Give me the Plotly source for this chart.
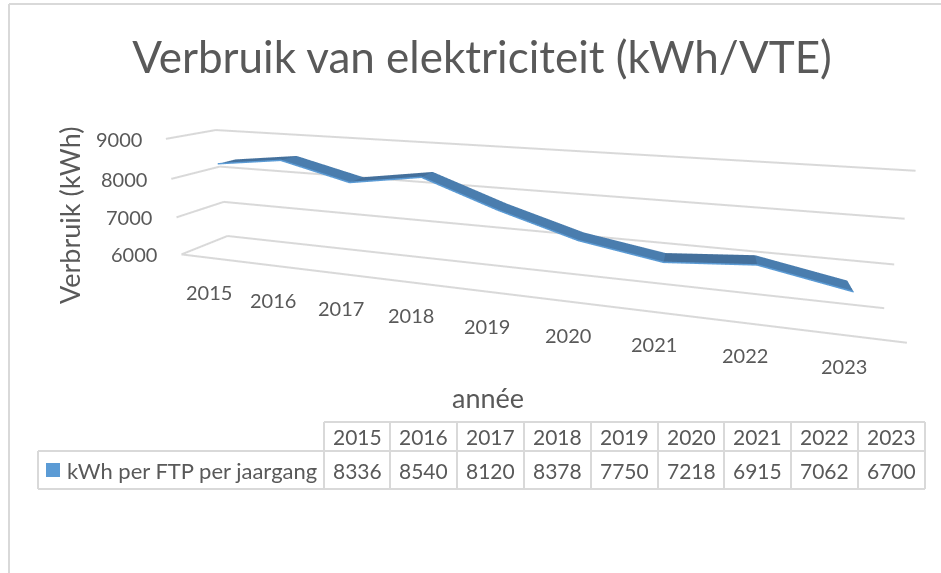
import plotly.graph_objects as go

W, H = 941, 573
years = [2015, 2016, 2017, 2018, 2019, 2020, 2021, 2022, 2023]
values = [8336, 8540, 8120, 8378, 7750, 7218, 6915, 7062, 6700]
z_ticks = [6000, 7000, 8000, 9000]
series_name = "kWh per FTP per jaargang"
title_text = "Verbruik van elektriciteit (kWh/VTE)"
y_title = "Verbruik (kWh)"
x_title = "année"
segment_shades = ["#44709C", "#4A7DAE", "#44709C", "#4A7DAE", "#4A7DAE",
                  "#4A7DAE", "#44709C", "#4A7DAE"]
label_dx = [-2, -1, 0, -1, -1, -2, -3, -6, -9]
label_dy = [1, 1, 1, 0, 1, 0, -1, -2, -3]

FONT = "Lato"
TXT = "#595959"
GRID = "#D9D9D9"
TXTSIZE = 20

idx = list(range(len(years)))
n = len(idx)
y_front, y_back = 0.3437, 0.725
x_lo, x_hi = -0.5, n - 0.5

vx = idx + idx
vy = [y_front] * n + [y_back] * n
vz = values + values
ii, jj, kk, fc = [], [], [], []
for s in range(n - 1):
    ii += [s, s + 1]
    jj += [s + 1, s + 1 + n]
    kk += [s + n, s + n]
    fc += [segment_shades[s], segment_shades[s]]

fig = go.Figure()
gl = dict(color=GRID, width=4)
def seg(xs, ys, zs):
    fig.add_trace(go.Scatter3d(x=xs, y=ys, z=zs, mode="lines", line=gl, hoverinfo="skip", showlegend=False))
for v in z_ticks:
    seg([x_lo, x_lo], [0, 1], [v, v])
    seg([x_lo, x_hi], [1, 1], [v, v])
seg([x_lo, x_hi], [0, 0], [6000, 6000])
fig.add_trace(go.Mesh3d(x=vx, y=vy, z=vz, i=ii, j=jj, k=kk, facecolor=fc, flatshading=True,
                        lighting=dict(ambient=1, diffuse=0, specular=0, roughness=1, fresnel=0),
                        hoverinfo="skip", showscale=False))
fig.add_trace(go.Scatter3d(x=idx, y=[y_front] * n, z=values, mode="lines",
                           line=dict(color="#5B9BD5", width=3), hoverinfo="skip", showlegend=False))

def ax(**kw):
    base = dict(title=dict(text=""), showticklabels=False, ticks="", showspikes=False,
                showbackground=False, zeroline=False, showline=False, showgrid=False)
    base.update(kw)
    return base

scene_ann = []
for v in z_ticks:
    scene_ann.append(dict(x=x_lo, y=0, z=v, text=str(v), showarrow=False, xanchor="right",
                          yanchor="middle", xshift=-22, font=dict(family=FONT, size=TXTSIZE, color=TXT)))
for i, yr in zip(idx, years):
    scene_ann.append(dict(x=i, y=0, z=6000, text=str(yr), showarrow=False, xanchor="center",
                          yanchor="middle", xshift=label_dx[i], yshift=-33 - label_dy[i],
                          font=dict(family=FONT, size=TXTSIZE, color=TXT)))

fig.update_layout(
    width=W, height=H, margin=dict(l=0, r=0, t=0, b=0), autosize=False,
    paper_bgcolor="white", showlegend=False,
    title=dict(text=title_text, x=482 / W, xanchor="center", y=1 - 58 / H, yanchor="middle",
               font=dict(family=FONT, size=44, color=TXT)),
    scene=dict(
        domain=dict(x=[0, 1], y=[0, 1]),
        dragmode="orbit",
        aspectmode="manual", aspectratio=dict(x=1, y=0.1157, z=0.1788),
        camera=dict(eye=dict(x=0.2462, y=-0.8993, z=0.2313),
                    center=dict(x=-0.0297, y=-0.0432, z=-0.0896),
                    up=dict(x=-0.0132, y=0.0041, z=1),
                    projection=dict(type="perspective")),
        xaxis=ax(range=[x_lo - 0.01, x_hi + 0.01]),
        yaxis=ax(range=[-0.005, 1.005]),
        zaxis=ax(range=[5990, 9010], tickvals=z_ticks),
        annotations=scene_ann,
    ),
)

def px(x): return x / W
def py(y): return 1 - y / H

shapes = []
def line(x0, y0, x1, y1):
    shapes.append(dict(type="line", xref="paper", yref="paper", x0=px(x0), y0=py(y0), x1=px(x1), y1=py(y1),
                       line=dict(color=GRID, width=2)))
line(9, 4, 941, 4)
line(9, 4, 9, 573)
col_x = [38, 324, 390, 457, 524, 591, 658, 724, 791, 858, 925]
row_y = [422, 451, 489]
line(col_x[1], row_y[0], col_x[-1], row_y[0])
line(col_x[0], row_y[1], col_x[-1], row_y[1])
line(col_x[0], row_y[2], col_x[-1], row_y[2])
line(col_x[0], row_y[1], col_x[0], row_y[2])
for cx in col_x[1:]:
    line(cx, row_y[0], cx, row_y[2])
shapes.append(dict(type="rect", xref="paper", yref="paper", x0=px(46), x1=px(60), y0=py(477), y1=py(463),
                   fillcolor="#5B9BD5", line=dict(width=0)))
fig.update_layout(shapes=shapes)

def txt(x, y, s, size=21, angle=0, anchor="center"):
    fig.add_annotation(xref="paper", yref="paper", x=px(x), y=py(y), text=s, showarrow=False,
                       xanchor=anchor, yanchor="middle", textangle=angle,
                       font=dict(family=FONT, size=size, color=TXT))
for c in range(n):
    cxm = (col_x[c + 1] + col_x[c + 2]) / 2
    txt(cxm, 436, str(years[c]))
    txt(cxm, 470, str(values[c]))
txt(65, 470, series_name, size=22, anchor="left")
txt(70, 216, y_title, size=27, angle=-90)
txt(488, 397, x_title, size=27)

fig.write_html("out.html", config=dict(displayModeBar=False),
               post_script="document.body.style.margin='0';document.body.style.overflow='hidden';")
